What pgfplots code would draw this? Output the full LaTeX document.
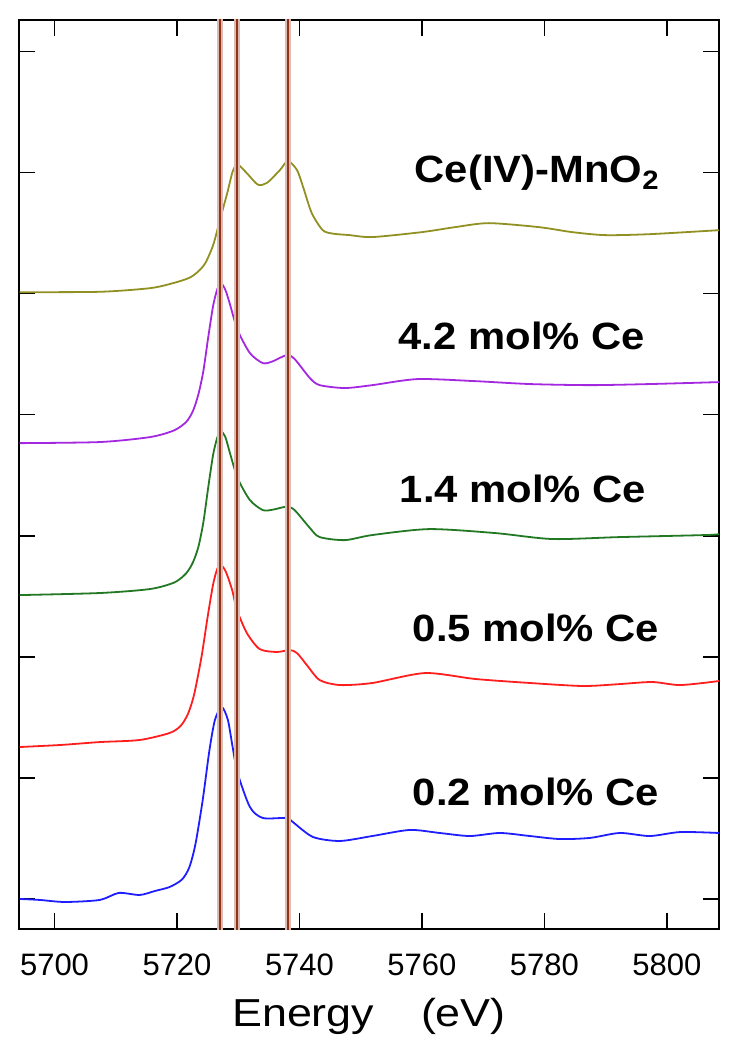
\documentclass[border=0pt]{standalone}
\usepackage{fontspec}
\setmainfont{Liberation Sans}
\newfontfamily\lblfont[FakeStretch=1.1]{Liberation Sans}
\newfontfamily\axfont[FakeStretch=1.15]{Liberation Sans}
\usepackage{pgfplots}
\pgfplotsset{compat=1.18}
\definecolor{cOlive}{RGB}{145,145,35}
\definecolor{cPurple}{RGB}{165,40,225}
\definecolor{cGreen}{RGB}{35,120,35}
\definecolor{cRed}{RGB}{255,30,30}
\definecolor{cBlue}{RGB}{30,30,255}
\definecolor{cLine}{RGB}{145,50,25}
\definecolor{cHalo}{RGB}{218,188,178}

\begin{document}
\begin{tikzpicture}
\begin{axis}[
    scale only axis, width=350pt, height=454.5pt,
    xmin=5694.2, xmax=5808.5, ymin=-0.248, ymax=7.26,
    xtick={5700,5720,...,5800}, ytick={0,1,...,7}, yticklabels={},
    /pgf/number format/1000 sep={}, /pgf/number format/assume math mode=true,
    tick align=inside, major tick length=8pt,
    every tick/.style={black, line width=0.8pt},
    axis line style={line width=1.2pt},
    xticklabel style={font=\fontsize{15.5}{18}\selectfont, anchor=base, yshift=-23pt},
    xlabel={Energy\hspace{1.2em}(eV)},
    xlabel style={font=\axfont\fontsize{19.5}{22}\selectfont, at={(0.5,-0.1078)}, anchor=base},
    every axis plot/.append style={line width=0.9pt, line join=round, smooth, tension=0.45},
  ]
  % Ce(IV)-MnO2
  \addplot[cOlive] coordinates {
    (5694.3,5.012) (5707.4,5.015) (5715.6,5.045) (5719.4,5.087) (5722.0,5.130)
    (5723.4,5.180) (5724.6,5.250) (5725.9,5.400) (5727.0,5.607) (5728.2,5.830)
    (5729.1,6.010) (5729.9,6.065) (5731.4,5.995) (5733.2,5.900) (5734.7,5.915)
    (5736.8,6.020) (5738.1,6.095) (5739.6,6.020) (5740.6,5.879) (5742.0,5.665)
    (5743.8,5.524) (5745.5,5.495) (5748.2,5.483) (5751.9,5.467) (5760.0,5.508)
    (5765.4,5.549) (5770.9,5.582) (5779.1,5.549) (5784.5,5.508) (5789.9,5.483)
    (5797.2,5.491) (5808.5,5.524)};
  % 4.2 mol% Ce
  \addplot[cPurple] coordinates {
    (5694.3,3.765) (5707.4,3.774) (5715.6,3.815) (5719.5,3.870) (5721.5,3.940)
    (5722.6,4.030) (5723.5,4.170) (5724.3,4.360) (5725.1,4.640) (5725.9,4.900)
    (5726.6,5.040) (5727.2,5.085) (5727.9,5.030) (5728.6,4.920) (5729.9,4.699)
    (5731.9,4.509) (5734.0,4.426) (5735.6,4.440) (5737.9,4.492) (5739.2,4.460)
    (5741.7,4.302) (5743.3,4.244) (5747.4,4.220) (5751.9,4.244) (5759.3,4.294)
    (5768.7,4.277) (5777.6,4.253) (5787.6,4.244) (5797.2,4.253) (5808.5,4.269)};
  % 1.4 mol% Ce
  \addplot[cGreen] coordinates {
    (5694.3,2.510) (5707.4,2.527) (5715.6,2.560) (5719.6,2.615) (5721.5,2.690)
    (5722.6,2.780) (5723.5,2.910) (5724.3,3.110) (5725.1,3.400) (5725.9,3.670)
    (5726.6,3.815) (5727.2,3.862) (5727.9,3.815) (5728.6,3.691) (5729.9,3.476)
    (5731.9,3.295) (5734.0,3.212) (5735.6,3.215) (5737.9,3.240) (5739.2,3.212)
    (5741.7,3.064) (5743.3,2.989) (5747.4,2.964) (5751.9,3.006) (5761.2,3.055)
    (5772.0,3.022) (5781.3,2.973) (5792.3,2.989) (5806.4,3.006) (5808.5,3.014)};
  % 0.5 mol% Ce
  \addplot[cRed] coordinates {
    (5694.3,1.255) (5701.0,1.272) (5707.4,1.296) (5713.9,1.313) (5718.8,1.371)
    (5720.6,1.430) (5721.8,1.530) (5722.8,1.690) (5724.0,2.000) (5725.0,2.330)
    (5725.9,2.600) (5726.6,2.730) (5727.2,2.758) (5728.0,2.700) (5729.0,2.552)
    (5729.8,2.386) (5731.4,2.197) (5733.5,2.064) (5736.3,2.040) (5738.4,2.056)
    (5739.6,2.031) (5741.2,1.932) (5743.3,1.808) (5746.6,1.767) (5751.9,1.784)
    (5760.5,1.866) (5768.7,1.817) (5777.6,1.784) (5786.3,1.759) (5792.3,1.775)
    (5797.6,1.792) (5802.2,1.767) (5808.5,1.800)};
  % 0.2 mol% Ce
  \addplot[cBlue] coordinates {
    (5694.3,0.000) (5697.6,-0.008) (5701.7,-0.025) (5707.4,-0.008) (5710.5,0.050)
    (5713.9,0.033) (5716.4,0.066) (5718.8,0.099) (5720.8,0.160) (5722.0,0.260)
    (5723.0,0.450) (5724.2,0.818) (5725.3,1.230) (5726.2,1.480) (5727.3,1.585)
    (5728.3,1.480) (5729.1,1.250) (5729.9,1.040) (5731.9,0.760) (5734.0,0.669)
    (5737.9,0.669) (5738.9,0.636) (5742.2,0.512) (5746.6,0.479) (5751.9,0.520)
    (5758.0,0.570) (5762.9,0.545) (5767.8,0.520) (5772.7,0.545) (5777.6,0.520)
    (5782.5,0.495) (5787.4,0.504) (5792.3,0.545) (5797.2,0.520) (5802.2,0.553)
    (5808.5,0.545)};
  % reference lines
  \foreach \e in {5727.0,5729.8,5738.1} {
    \edef\tmp{\noexpand\addplot[cHalo, line width=3.2pt, sharp plot] coordinates {(\e,-1) (\e,8)};
      \noexpand\addplot[cLine, line width=1.1pt, sharp plot] coordinates {(\e,-1) (\e,8)};}
    \tmp
  }
  \node[font=\lblfont\bfseries\fontsize{19}{22}\selectfont, anchor=base] at (axis cs:5778.8,5.915) {Ce(IV)-MnO\textsubscript{2}};
  \node[font=\lblfont\bfseries\fontsize{19}{22}\selectfont, anchor=base] at (axis cs:5776.3,4.542) {4.2 mol\% Ce};
  \node[font=\lblfont\bfseries\fontsize{19}{22}\selectfont, anchor=base] at (axis cs:5776.5,3.278) {1.4 mol\% Ce};
  \node[font=\lblfont\bfseries\fontsize{19}{22}\selectfont, anchor=base] at (axis cs:5778.6,2.130) {0.5 mol\% Ce};
  \node[font=\lblfont\bfseries\fontsize{19}{22}\selectfont, anchor=base] at (axis cs:5778.6,0.768) {0.2 mol\% Ce};
\end{axis}
\pgfresetboundingbox
\path ([shift={(-9.5pt,-63.5pt)}]current axis.south west) rectangle ([shift={(12.5pt,10pt)}]current axis.north east);
\end{tikzpicture}
\end{document}
